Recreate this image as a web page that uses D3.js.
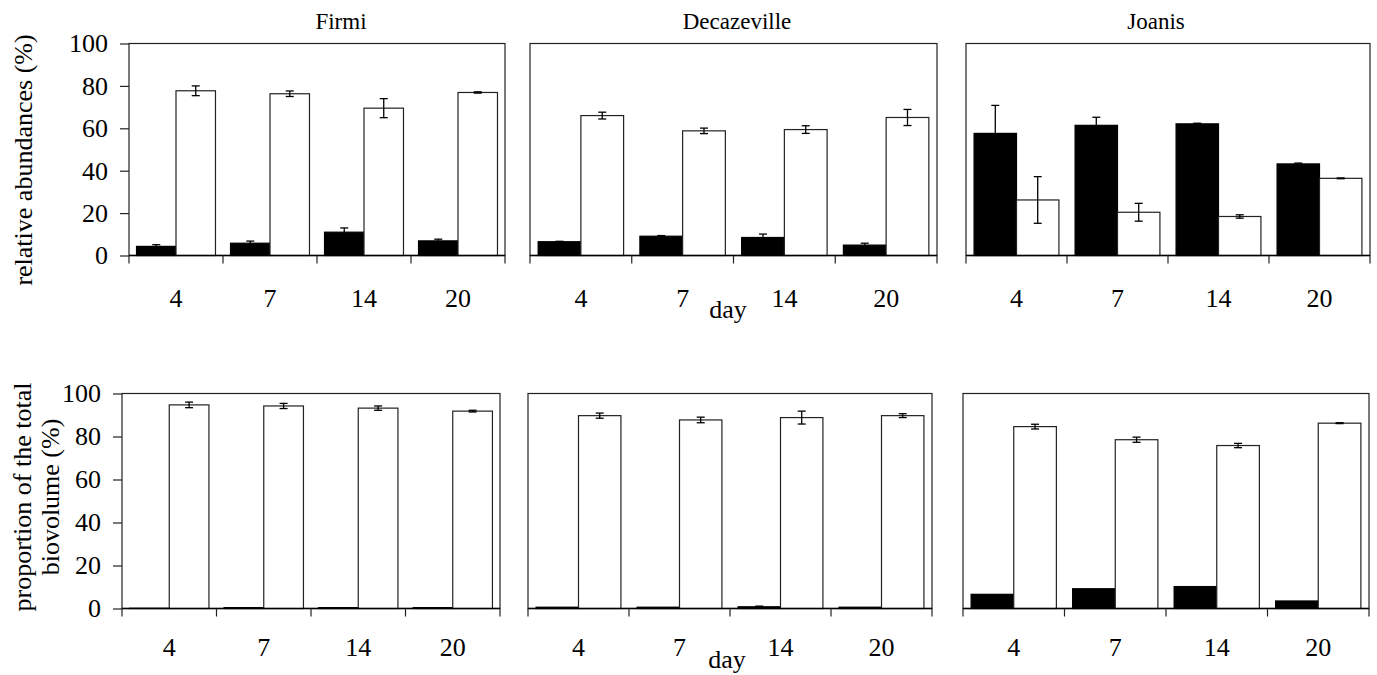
<!DOCTYPE html>
<html>
<head>
<meta charset="utf-8">
<script src="https://cdn.jsdelivr.net/npm/d3@7"></script>
<style>
  body { margin: 0; background: #fff; }
  text { font-family: "Liberation Serif", "Times New Roman", serif; fill: #000; }
</style>
</head>
<body>
<div id="chart"></div>
<script>
const days = ["4", "7", "14", "20"];
const sites = ["Firmi", "Decazeville", "Joanis"];
const yTicks = [0, 20, 40, 60, 80, 100];

// relative abundances (%), one inner array per site
const abundBlack = [[4.3, 5.8, 11.0, 6.9], [6.5, 9.1, 8.5, 4.9], [57.6, 61.4, 62.1, 43.2]];
const abundBlackErr = [[0.8, 1.0, 2.0, 0.8], [0.2, 0.3, 1.6, 0.9], [13.2, 3.8, 0.3, 0.4]];
const abundWhite = [[77.7, 76.3, 69.5, 76.9], [66.0, 58.8, 59.4, 65.1], [26.2, 20.4, 18.4, 36.4]];
const abundWhiteErr = [[2.3, 1.3, 4.5, 0.3], [1.6, 1.3, 1.8, 3.8], [11.0, 4.2, 0.8, 0.2]];

// proportion of the total biovolume (%)
const bioBlack = [[0.1, 0.4, 0.4, 0.4], [0.6, 0.6, 0.8, 0.6], [6.6, 9.2, 10.2, 3.5]];
const bioBlackErr = [[0, 0, 0, 0], [0, 0, 0.3, 0], [0, 0, 0, 0]];
const bioWhite = [[94.7, 94.2, 93.2, 91.8], [89.7, 87.7, 88.8, 89.7], [84.6, 78.5, 75.8, 86.2]];
const bioWhiteErr = [[1.3, 1.2, 1.0, 0.4], [1.2, 1.3, 3.0, 0.9], [1.1, 1.2, 1.0, 0.2]];

const rows = [
  { black: abundBlack, blackErr: abundBlackErr, white: abundWhite, whiteErr: abundWhiteErr,
    top: 43.5, bottom: 255.5, cols: [[129, 505], [530, 937], [966, 1370]], labelPad: 33 },
  { black: bioBlack, blackErr: bioBlackErr, white: bioWhite, whiteErr: bioWhiteErr,
    top: 393.5, bottom: 608.5, cols: [[122, 500], [528, 932], [963, 1369]], labelPad: 29 }
];

const svg = d3.select("#chart").append("svg")
  .attr("width", 1377)
  .attr("height", 675);

function drawPanel(r, c) {
  let row = rows[r];
  let [left, right] = row.cols[c];
  let g = svg.append("g");

  let x0 = d3.scaleBand().domain(days).range([left, right]);
  let bw = x0.bandwidth();
  let x1 = d3.scaleBand().domain(["black", "white"]).range([bw * 0.08, bw * 0.92]);
  let y = d3.scaleLinear().domain([0, 100]).range([row.bottom, row.top]);

  let data = [];
  days.forEach((d, i) => {
    data.push({ day: d, key: "black", v: row.black[c][i], e: row.blackErr[c][i] });
    data.push({ day: d, key: "white", v: row.white[c][i], e: row.whiteErr[c][i] });
  });

  // frame
  g.append("rect")
    .attr("x", left).attr("y", row.top)
    .attr("width", right - left).attr("height", row.bottom - row.top)
    .attr("fill", "none").attr("stroke", "#222").attr("stroke-width", 1.2);

  g.selectAll(".bar")
    .data(data)
    .enter()
    .append("rect")
    .attr("x", d => x0(d.day) + x1(d.key))
    .attr("y", d => y(d.v))
    .attr("width", x1.bandwidth())
    .attr("height", d => y(0) - y(d.v))
    .attr("fill", d => d.key == "black" ? "#000" : "#fff")
    .attr("stroke", d => d.key == "black" ? "#000" : "#222")
    .attr("stroke-width", 1.2);

  // error bars
  let eb = g.selectAll(".err")
    .data(data.filter(d => d.e > 0))
    .enter()
    .append("g")
    .attr("transform", d => "translate(" + (x0(d.day) + x1(d.key) + x1.bandwidth() / 2) + ",0)");
  eb.append("line")
    .attr("y1", d => y(d.v - d.e)).attr("y2", d => y(d.v + d.e))
    .attr("stroke", "#000").attr("stroke-width", 1.3);
  eb.append("line")
    .attr("x1", -4).attr("x2", 4)
    .attr("y1", d => y(d.v + d.e)).attr("y2", d => y(d.v + d.e))
    .attr("stroke", "#000").attr("stroke-width", 1.3);
  eb.append("line")
    .attr("x1", -4).attr("x2", 4)
    .attr("y1", d => y(d.v - d.e)).attr("y2", d => y(d.v - d.e))
    .attr("stroke", "#000").attr("stroke-width", 1.3);

  // baseline and category boundary ticks
  g.append("line")
    .attr("x1", left).attr("x2", right)
    .attr("y1", y(0)).attr("y2", y(0))
    .attr("stroke", "#000").attr("stroke-width", 1.5);
  let bounds = days.map(d => x0(d)).concat([right]);
  g.selectAll(".btick")
    .data(bounds)
    .enter()
    .append("line")
    .attr("x1", d => d).attr("x2", d => d)
    .attr("y1", y(0)).attr("y2", y(0) + 8)
    .attr("stroke", "#222").attr("stroke-width", 1.2);

  // day labels
  let xAxis = g.append("g")
    .attr("transform", "translate(0," + y(0) + ")")
    .call(d3.axisBottom(x0).tickSize(0).tickPadding(row.labelPad));
  xAxis.select(".domain").remove();
  xAxis.selectAll("text")
    .style("font-family", "'Liberation Serif', serif")
    .style("font-size", "26px");

  if (c == 0) {
    let yAxis = g.append("g")
      .attr("transform", "translate(" + left + ",0)")
      .call(d3.axisLeft(y).tickValues(yTicks).tickSize(9).tickPadding(12));
    yAxis.select(".domain").remove();
    yAxis.selectAll("line").attr("stroke", "#222").attr("stroke-width", 1.2);
    yAxis.selectAll("text")
      .style("font-family", "'Liberation Serif', serif")
      .style("font-size", "26px");
  }
}

for (let r = 0; r < rows.length; r++) {
  for (let c = 0; c < sites.length; c++) drawPanel(r, c);
}

// site titles
const titleX = [341, 737, 1156];
svg.selectAll(".title")
  .data(sites)
  .enter()
  .append("text")
  .attr("x", (d, i) => titleX[i])
  .attr("y", 29)
  .style("text-anchor", "middle")
  .style("font-size", "23px")
  .text(d => d);

// x-axis titles
svg.append("text").attr("x", 728).attr("y", 318)
  .style("text-anchor", "middle").style("font-size", "26px").text("day");
svg.append("text").attr("x", 727).attr("y", 668)
  .style("text-anchor", "middle").style("font-size", "26px").text("day");

// y-axis titles
svg.append("text")
  .attr("transform", "translate(32,160) rotate(-90)")
  .style("text-anchor", "middle")
  .style("font-size", "26px")
  .text("relative abundances (%)");

svg.append("text")
  .attr("transform", "translate(31,497) rotate(-90)")
  .style("text-anchor", "middle")
  .style("font-size", "26px")
  .text("proportion of the total");
svg.append("text")
  .attr("transform", "translate(59,497) rotate(-90)")
  .style("text-anchor", "middle")
  .style("font-size", "26px")
  .text("biovolume (%)");
</script>
</body>
</html>
